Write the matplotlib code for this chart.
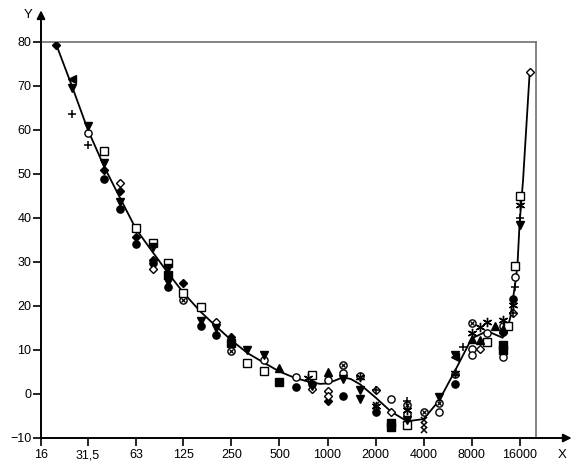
import matplotlib.pyplot as plt

plt.rcParams['font.family'] = ['Liberation Sans', 'DejaVu Sans']

# fitted curve (threshold), read at 1/3-octave points
curve_f = [20, 25, 31.5, 40, 50, 63, 80, 100, 125, 160, 200, 250, 315, 400, 500, 630, 800,
           900, 1000, 1120, 1250, 1400, 1600, 2000, 2500, 3150, 4000, 5000, 6300, 8000, 10000, 12500,
           13200, 14000, 14500, 15000, 15500, 16000, 16800, 18500]
curve_y = [79.3, 70.0, 60.0, 51.5, 44.6, 37.5, 32.3, 27.5, 23.0, 18.7, 15.4, 12.2, 9.3, 7.1, 5.1, 3.6, 2.6,
           2.3, 2.4, 3.1, 3.8, 3.4, 2.2, -0.8, -4.0, -6.2, -5.7, -1.5, 5.3, 12.6, 14.3, 12.8,
           14.0, 17.5, 21.5, 25.0, 29.2, 39.0, 48.5, 73.2]

# measured points, grouped by marker
filled_circle_f = [40, 50, 63, 80, 100, 160, 200, 630, 800, 1250, 2000, 6300, 14500, 12500]
filled_circle_y = [48.9, 42.0, 34.1, 29.8, 24.3, 15.4, 13.3, 1.5, 2.3, -0.5, -4.0, 2.2, 21.7, 14.2]

open_circle_f = [31.5, 400, 630, 1000, 1250, 1600, 2500, 3150, 5000, 8000, 8000, 10000, 12500, 12500, 15000]
open_circle_y = [59.4, 7.7, 3.8, 3.2, 4.8, 4.2, -1.2, -4.5, -4.2, 10.2, 8.9, 13.8, 15.4, 8.5, 26.7]

cross_circle_f = [125, 250, 1250, 3150, 4000, 5000, 6300, 8000]
cross_circle_y = [21.4, 9.8, 6.5, -2.5, -4.2, -2.1, 4.6, 16.2]

filled_square_f = [100, 250, 500, 2500, 2500, 12500, 12500]
filled_square_y = [27.0, 11.7, 2.8, -6.5, -7.4, 11.1, 10.0]

open_square_f = [40, 63, 80, 100, 125, 160, 315, 400, 800, 3150, 10000, 13500, 15000, 16000]
open_square_y = [55.3, 37.7, 34.3, 29.8, 23.0, 19.7, 7.0, 5.3, 4.3, -7.0, 11.9, 15.5, 29.1, 45.1]

filled_diamond_f = [20, 40, 50, 63, 80, 125, 250, 1000]
filled_diamond_y = [79.4, 50.9, 46.2, 35.7, 30.5, 25.3, 13.0, -1.7]

open_diamond_f = [50, 80, 200, 800, 1000, 1000, 2000, 2500, 9000, 14500, 18500]
open_diamond_y = [47.9, 28.4, 16.4, 1.1, 0.6, -0.4, 0.9, -4.0, 10.2, 18.3, 73.2]

tri_down_f = [25, 31.5, 40, 50, 80, 100, 160, 200, 315, 400, 800, 1250, 1600, 1600, 3150, 5000,
              6300, 16000, 100]
tri_down_y = [69.5, 60.8, 52.5, 43.7, 33.4, 28.6, 16.7, 15.0, 10.0, 8.9, 1.8, 3.3, 1.0, -1.2, -5.9, -0.6,
              8.9, 38.5, 25.5]

tri_left_f = [25, 6300]
tri_left_y = [71.6, 8.5]

tri_up_f = [500, 1000, 8000, 9000, 11200, 12500]
tri_up_y = [5.8, 5.1, 12.4, 12.3, 15.5, 14.7]

plus_f = [25, 31.5, 2000, 3150, 7100, 15000, 16000, 14500]
plus_y = [63.6, 56.6, 0.9, -1.7, 10.6, 24.4, 39.9, 18.3]

star_f = [750, 1600, 2000, 3150, 6300, 8000, 9000, 10000, 12500, 14500, 16000]
star_y = [3.6, 3.8, -2.8, -3.6, 4.8, 13.8, 15.3, 16.4, 16.8, 20.2, 43.0]

x_f = [4000, 4000, 4000, 2000]
x_y = [-5.9, -7.0, -8.2, -2.5]

tick_f = [16, 31.5, 63, 125, 250, 500, 1000, 2000, 4000, 8000, 16000]
tick_labels = ['16', '31,5', '63', '125', '250', '500', '1000', '2000', '4000', '8000', '16000']

fig = plt.figure(figsize=(5.79, 4.67), dpi=100)
ax = fig.add_axes([41 / 579, 29 / 467, 495 / 579, 396 / 467])

ax.plot(curve_f, curve_y, color='black', lw=1.3, zorder=2)

ms = 5.2
kw = dict(ls='none', color='black', mec='black', zorder=3)
ax.plot(filled_circle_f, filled_circle_y, marker='o', ms=ms, **kw)
ax.plot(open_circle_f, open_circle_y, marker='o', ms=ms, mfc='white', mew=1.0, **kw)
ax.plot(cross_circle_f, cross_circle_y, marker='o', ms=ms, mfc='white', mew=1.0, **kw)
ax.plot(cross_circle_f, cross_circle_y, marker='x', ms=3.4, mew=0.9, **kw)
ax.plot(filled_square_f, filled_square_y, marker='s', ms=ms, **kw)
ax.plot(open_square_f, open_square_y, marker='s', ms=ms + 0.5, mfc='white', mew=1.0, **kw)
ax.plot(filled_diamond_f, filled_diamond_y, marker='D', ms=ms - 1, **kw)
ax.plot(open_diamond_f, open_diamond_y, marker='D', ms=ms - 1, mfc='white', mew=1.0, **kw)
ax.plot(tri_down_f, tri_down_y, marker='v', ms=ms, **kw)
ax.plot(tri_left_f, tri_left_y, marker='<', ms=ms, **kw)
ax.plot(tri_up_f, tri_up_y, marker='^', ms=ms, **kw)
ax.plot(plus_f, plus_y, marker='+', ms=ms + 1, mew=1.1, **kw)
ax.plot(star_f, star_y, marker=(6, 2, 0), ms=ms + 1.5, mew=1.0, **kw)
ax.plot(x_f, x_y, marker='x', ms=ms - 0.5, mew=1.1, **kw)

ax.set_xscale('log', base=2)
ax.set_xlim(16, 20260)
ax.set_ylim(-10, 80)
ax.set_xticks(tick_f)
ax.set_xticklabels(tick_labels)
ax.xaxis.set_minor_locator(plt.NullLocator())
ax.set_yticks(range(-10, 81, 10))

ax.tick_params(axis='both', direction='out', length=6, width=1.2, labelsize=9, color='black')
ax.tick_params(axis='x', pad=2)
ax.tick_params(axis='y', pad=1)

for side in ['left', 'bottom']:
    ax.spines[side].set_linewidth(1.4)
    ax.spines[side].set_color('black')
for side in ['top', 'right']:
    ax.spines[side].set_linewidth(1.2)
    ax.spines[side].set_color('#707070')

# axis arrows
ax.annotate('', xy=(0, 1.08), xytext=(0, 1.0), xycoords='axes fraction',
            arrowprops=dict(arrowstyle='-|>', color='black', lw=1.4, mutation_scale=12,
                            shrinkA=0, shrinkB=0), annotation_clip=False)
ax.annotate('', xy=(1.072, 0), xytext=(1.0, 0), xycoords='axes fraction',
            arrowprops=dict(arrowstyle='-|>', color='black', lw=1.4, mutation_scale=12,
                            shrinkA=0, shrinkB=0), annotation_clip=False)
fig.text(28 / 579, 1 - 15 / 467, 'Y', ha='center', va='center', fontsize=9.5)
fig.text(562 / 579, 1 - 455 / 467, 'X', ha='center', va='center', fontsize=9.5)

fig.savefig('out.png', dpi=100)
